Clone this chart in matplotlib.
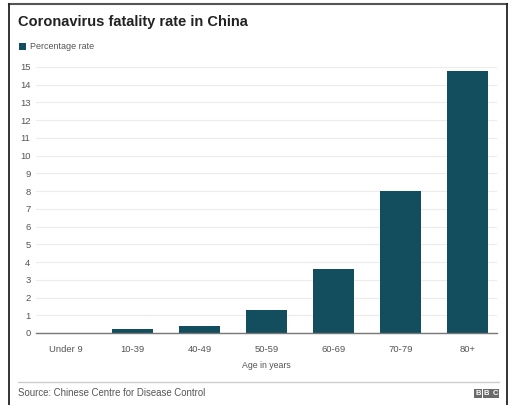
import matplotlib.pyplot as plt
from matplotlib.patches import Rectangle
from matplotlib.lines import Line2D

age_groups = ["Under 9", "10-39", "40-49", "50-59", "60-69", "70-79", "80+"]
fatality_rate = [0.0, 0.2, 0.4, 1.3, 3.6, 8.0, 14.8]
y_ticks = list(range(0, 16))

W, H = 509, 405
bar_color = "#124e5e"
text_gray = "#555555"

plt.rcParams["font.family"] = ["Liberation Sans", "DejaVu Sans"]

fig = plt.figure(figsize=(W / 100, H / 100), dpi=100)
fig.patch.set_facecolor("white")


def px(x, y):
    # pixel position (from top left) to figure fraction
    return x / W, 1 - y / H


# plot area
left, top = px(36, 67)
right, bottom = px(497, 333)
ax = fig.add_axes([left, bottom, right - left, top - bottom])

ax.bar(range(len(age_groups)), fatality_rate, width=0.61, color=bar_color, zorder=3)
ax.set_xlim(-0.44, 6.44)
ax.set_ylim(0, 15)
ax.set_yticks(y_ticks)
ax.set_xticks(range(len(age_groups)))
ax.set_xticklabels(age_groups)
ax.tick_params(axis="both", length=0, labelsize=6.8, labelcolor=text_gray)
ax.tick_params(axis="y", pad=4)
ax.tick_params(axis="x", pad=9)
ax.grid(axis="y", color="#ececec", linewidth=0.8, zorder=0)
for side in ["top", "right", "left"]:
    ax.spines[side].set_visible(False)
ax.spines["bottom"].set_color("#777777")
ax.spines["bottom"].set_linewidth(1.0)
ax.spines["bottom"].set_zorder(4)
ax.set_xlabel("Age in years", fontsize=6.3, color=text_gray, labelpad=5)

# title and legend
fig.text(*px(18, 22), "Coronavirus fatality rate in China", fontsize=10.5,
         fontweight="bold", color="#222222", va="center", ha="left")
fig.add_artist(Rectangle(px(19, 50), 7 / W, 7 / H, transform=fig.transFigure,
                         facecolor=bar_color, edgecolor="none"))
fig.text(*px(30, 46.5), "Percentage rate", fontsize=6.5, color=text_gray,
         va="center", ha="left")

# footer
x0, y0 = px(18, 382)
x1, _ = px(499, 382)
fig.add_artist(Line2D([x0, x1], [y0, y0], color="#cccccc", linewidth=1.0,
                      transform=fig.transFigure))
fig.text(*px(18, 393), "Source: Chinese Centre for Disease Control", fontsize=6.9,
         color=text_gray, va="center", ha="left")
for i, letter in enumerate("BBC"):
    bx = 474 + i * 8.7
    fig.add_artist(Rectangle(px(bx, 398), 8 / W, 9.5 / H, transform=fig.transFigure,
                             facecolor="#6a6a6a", edgecolor="none"))
    fig.text(*px(bx + 4, 393.3), letter, fontsize=5.5, fontweight="bold",
             color="white", va="center", ha="center")

# outer frame
fx0, fy0 = px(9, 4)
fx1, _ = px(507, 4)
_, fy1 = px(9, 410)
fig.add_artist(Line2D([fx0, fx1], [fy0, fy0], color="#555555", linewidth=1.5,
                      transform=fig.transFigure))
fig.add_artist(Line2D([fx0, fx0], [fy0, fy1], color="#222222", linewidth=1.3,
                      transform=fig.transFigure))
fig.add_artist(Line2D([fx1, fx1], [fy0, fy1], color="#222222", linewidth=1.3,
                      transform=fig.transFigure))

fig.savefig("out.png", dpi=100)
